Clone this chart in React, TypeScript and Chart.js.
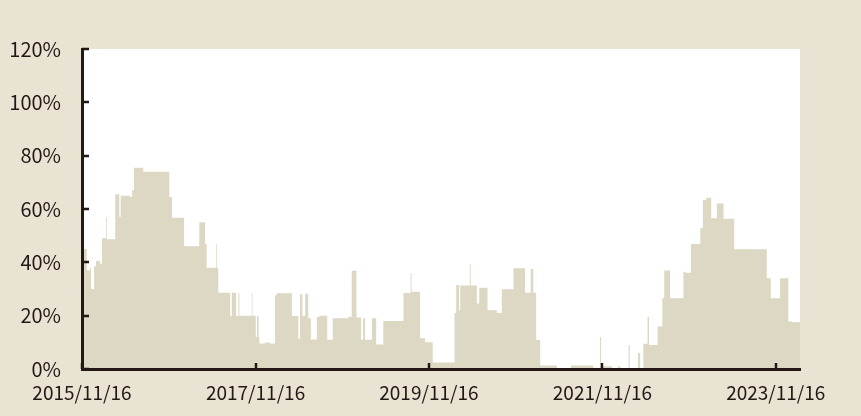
import React, { useEffect, useRef } from "react";
import { Chart, registerables } from "chart.js";

Chart.register(...registerables);

// step change dates (each value holds until the next date)
const dates: string[] = [
  "2015/11/16", "2015/12/06", "2015/12/20", "2015/12/24", "2016/01/06", "2016/01/14", "2016/01/31", "2016/02/08",
  "2016/02/25", "2016/02/28", "2016/04/04", "2016/04/21", "2016/04/27", "2016/06/05", "2016/06/14", "2016/06/22",
  "2016/07/31", "2016/11/18", "2016/11/29", "2017/01/19", "2017/03/24", "2017/04/17", "2017/04/24", "2017/06/03",
  "2017/06/06", "2017/06/12", "2017/08/01", "2017/08/08", "2017/08/26", "2017/09/05", "2017/09/09", "2017/10/31",
  "2017/11/03", "2017/11/17", "2017/11/22", "2017/11/29", "2017/12/02", "2017/12/26", "2018/01/16", "2018/02/06",
  "2018/02/13", "2018/04/18", "2018/05/15", "2018/05/22", "2018/06/01", "2018/06/13", "2018/06/26", "2018/07/07",
  "2018/08/01", "2018/08/11", "2018/09/14", "2018/10/07", "2018/12/12", "2018/12/26", "2019/01/15", "2019/02/03",
  "2019/02/12", "2019/02/20", "2019/03/21", "2019/04/08", "2019/05/08", "2019/08/01", "2019/08/31", "2019/09/04",
  "2019/10/10", "2019/10/31", "2019/12/02", "2020/03/03", "2020/03/10", "2020/03/22", "2020/03/27", "2020/05/06",
  "2020/05/10", "2020/06/05", "2020/06/15", "2020/07/20", "2020/08/28", "2020/09/18", "2020/11/06", "2020/12/25",
  "2021/01/18", "2021/01/29", "2021/02/10", "2021/02/27", "2021/05/08", "2021/07/06", "2021/10/09", "2021/11/06",
  "2021/11/10", "2021/11/19", "2021/12/26", "2022/01/21", "2022/01/30", "2022/03/06", "2022/03/11", "2022/04/15",
  "2022/04/24", "2022/05/07", "2022/05/25", "2022/05/31", "2022/07/06", "2022/07/26", "2022/08/03", "2022/08/28",
  "2022/10/23", "2022/10/31", "2022/11/24", "2023/01/02", "2023/01/13", "2023/01/27", "2023/02/17", "2023/03/13",
  "2023/04/10", "2023/05/25", "2023/10/09", "2023/10/26", "2023/12/04", "2024/01/08", "2024/01/23", "2024/02/26",
];

const values: number[] = [
  45, 37, 38, 30, 38.5, 40.5, 39.5, 49,
  57, 48.7, 65.5, 57, 65, 64.5, 67, 75.5,
  74, 64.5, 56.7, 46, 55, 47, 38, 47,
  38, 28.6, 20, 28.6, 20, 28.6, 20, 28.6,
  20, 12, 20, 12, 9.6, 9.9, 9.6, 27.7,
  28.4, 19.9, 11.3, 28, 20, 28.2, 19, 11.1,
  19.5, 20, 11, 19, 19.6, 36.8, 19.3, 11,
  19, 11, 19, 9.2, 18, 28.5, 36, 29,
  11.5, 10, 2.4, 21, 31.5, 22, 31.3, 39.4,
  31.3, 24.6, 30.5, 22, 21, 29.9, 37.8, 28.6,
  37.5, 28.6, 10.9, 1.3, 0, 1.3, 0.5, 12,
  0.5, 1, 0, 1, 0, 9, 0, 6,
  0, 9.5, 19.6, 9, 15.9, 26.5, 36.9, 26.5,
  36.5, 36.1, 46.9, 52.8, 63.4, 64.2, 56.5, 62.1,
  56.3, 44.9, 34, 26.5, 34, 17.8, 17.5, 17.5,
];

const xTickLabels: string[] = ["2015/11/16", "2017/11/16", "2019/11/16", "2021/11/16", "2023/11/16"];
const yTickValues: number[] = [0, 20, 40, 60, 80, 100, 120];

const toTime = (s: string) => {
  const [y, m, d] = s.split("/").map(Number);
  return Date.UTC(y, m - 1, d);
};

const INK = "#231815";
const FONT = "'Noto Sans CJK JP', 'Noto Sans', sans-serif";

const decor = {
  id: "decor",
  beforeDraw(chart: any) {
    const { ctx, chartArea: a } = chart;
    ctx.save();
    ctx.fillStyle = "#ffffff";
    ctx.fillRect(a.left, a.top, a.right - a.left, a.bottom - a.top);
    ctx.restore();
  },
  afterDraw(chart: any) {
    const { ctx, chartArea: a, scales } = chart;
    ctx.save();
    ctx.strokeStyle = INK;
    ctx.lineWidth = 2.5;
    ctx.lineCap = "butt";
    for (const v of yTickValues) {
      const py = Math.round(scales.y.getPixelForValue(v));
      ctx.beginPath();
      ctx.moveTo(a.left, py);
      ctx.lineTo(a.left + 7, py);
      ctx.stroke();
    }
    for (const l of xTickLabels) {
      const px = Math.round(scales.x.getPixelForValue(toTime(l)));
      ctx.beginPath();
      ctx.moveTo(px, a.bottom);
      ctx.lineTo(px, a.bottom - 6);
      ctx.stroke();
    }
    ctx.restore();
  },
};

export default function App() {
  const ref = useRef<HTMLCanvasElement>(null);
  useEffect(() => {
    if (!ref.current) return;
    const chart = new Chart(ref.current, {
      type: "line",
      data: {
        datasets: [
          {
            data: dates.map((d, i) => ({ x: toTime(d), y: values[i] })),
            stepped: true,
            fill: "origin",
            backgroundColor: "#ddd8c4",
            borderColor: "#ddd8c4",
            borderWidth: 0,
            pointRadius: 0,
          },
        ],
      },
      options: {
        animation: false,
        responsive: true,
        maintainAspectRatio: false,
        layout: { padding: { top: 49, right: 61, left: 0, bottom: 0 } },
        plugins: { legend: { display: false }, tooltip: { enabled: false } },
        scales: {
          x: {
            type: "linear",
            min: toTime(dates[0]),
            max: toTime(dates[dates.length - 1]),
            afterBuildTicks: (s: any) => {
              s.ticks = xTickLabels.map((l) => ({ value: toTime(l) }));
            },
            afterFit: (s: any) => {
              s.height = 47;
            },
            grid: { display: false, drawTicks: false },
            border: { display: true, color: INK, width: 3, z: 1 },
            ticks: {
              autoSkip: false,
              maxRotation: 0,
              minRotation: 0,
              padding: 12,
              color: INK,
              font: { family: FONT, size: 19 },
              callback: (_v: any, i: number) => xTickLabels[i],
            },
          },
          y: {
            min: 0,
            max: 120,
            afterBuildTicks: (s: any) => {
              s.ticks = yTickValues.map((v) => ({ value: v }));
            },
            afterFit: (s: any) => {
              s.width = 82;
            },
            grid: { display: false, drawTicks: false },
            border: { display: true, color: INK, width: 3, z: 1 },
            ticks: {
              padding: 21,
              color: INK,
              font: { family: FONT, size: 20 },
              callback: (v: any) => v + "%",
            },
          },
        },
      },
      plugins: [decor],
    });
    return () => chart.destroy();
  }, []);
  return (
    <div
      style={{
        position: "fixed",
        left: 0,
        top: 0,
        width: 861,
        height: 416,
        background: "#e8e3d2",
      }}
    >
      <canvas ref={ref} />
    </div>
  );
}
